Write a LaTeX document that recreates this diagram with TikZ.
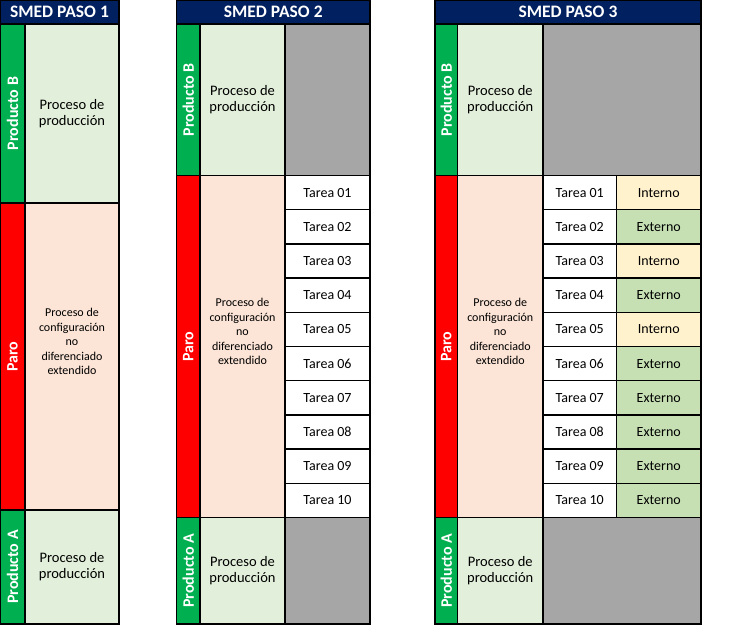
\documentclass[tikz,border=0pt]{standalone}
\usepackage{fontspec}
\setmainfont{Carlito}
\usepackage{tikz}
\definecolor{smednavy}{RGB}{0,32,96}
\definecolor{smedgreen}{RGB}{0,176,80}
\definecolor{smedred}{RGB}{255,0,0}
\definecolor{prodfill}{RGB}{226,239,218}
\definecolor{parofill}{RGB}{252,228,214}
\definecolor{idlefill}{RGB}{166,166,166}
\definecolor{intfill}{RGB}{255,242,204}
\definecolor{extfill}{RGB}{198,224,180}

\begin{document}
\begin{tikzpicture}[x=1pt, y=-1pt,
    cell/.style={draw=black, line width=1.3pt, inner sep=0pt, align=center, font=\fontsize{14}{16}\selectfont},
    head/.style={cell, fill=smednavy, text=white, minimum height=24pt, font=\bfseries\fontsize{17.5}{19}\selectfont},
    tag/.style={cell, rotate=90, text=white, font=\bfseries\fontsize{16}{18}\selectfont},
    prod/.style={cell, fill=prodfill, font=\fontsize{14.5}{16}\selectfont},
    paro/.style={cell, fill=parofill, text depth=30pt, font=\fontsize{12}{14.5}\selectfont},
    idle/.style={cell, fill=idlefill},
    task/.style={cell, fill=white, minimum height=34.2pt},
    intern/.style={task, fill=intfill},
    extern/.style={task, fill=extfill}]
            \useasboundingbox (0,0) rectangle (750,625);

            % Paso 1
            \node[head, minimum width=119pt] (h1) at (59.5,12) {SMED PASO 1};
            \node[tag, fill=smedgreen, minimum width=179pt, minimum height=25pt] (b1) at (12.5,113.5) {Producto B};
            \node[prod, minimum width=94pt, minimum height=179pt] (pb1) at (72,113.5) {Proceso de\\producción};
            \node[tag, fill=smedred, minimum width=307pt, minimum height=25pt] (s1) at (12.5,356.5) {Paro};
            \node[paro, minimum width=94pt, minimum height=307pt] (ps1) at (72,356.5) {Proceso de\\configuración\\no\\diferenciado\\extendido};
            \node[tag, fill=smedgreen, minimum width=114pt, minimum height=25pt] (a1) at (12.5,567) {Producto A};
            \node[prod, minimum width=94pt, minimum height=114pt] (pa1) at (72,567) {Proceso de\\producción};

            % Paso 2
            \node[head, minimum width=193.5pt] (h2) at (273.25,12) {SMED PASO 2};
            \node[tag, fill=smedgreen, minimum width=151.5pt, minimum height=23.5pt] (b2) at (188.25,99.75) {Producto B};
            \node[prod, minimum width=85pt, minimum height=151.5pt] (pb2) at (242.5,99.75) {Proceso de\\producción};
            \node[idle, minimum width=85pt, minimum height=151.5pt] (gb2) at (327.5,99.75) {};
            \node[tag, fill=smedred, minimum width=342pt, minimum height=23.5pt] (s2) at (188.25,346.5) {Paro};
            \node[paro, minimum width=85pt, minimum height=342pt] (ps2) at (242.5,346.5) {Proceso de\\configuración\\no\\diferenciado\\extendido};
            \node[task, minimum width=85pt] (t21) at (327.5,192.6) {Tarea 01};
            \node[task, minimum width=85pt] (t22) at (327.5,226.8) {Tarea 02};
            \node[task, minimum width=85pt] (t23) at (327.5,261.0) {Tarea 03};
            \node[task, minimum width=85pt] (t24) at (327.5,295.2) {Tarea 04};
            \node[task, minimum width=85pt] (t25) at (327.5,329.4) {Tarea 05};
            \node[task, minimum width=85pt] (t26) at (327.5,363.6) {Tarea 06};
            \node[task, minimum width=85pt] (t27) at (327.5,397.8) {Tarea 07};
            \node[task, minimum width=85pt] (t28) at (327.5,432.0) {Tarea 08};
            \node[task, minimum width=85pt] (t29) at (327.5,466.2) {Tarea 09};
            \node[task, minimum width=85pt] (t210) at (327.5,500.4) {Tarea 10};
            \node[tag, fill=smedgreen, minimum width=106.5pt, minimum height=23.5pt] (a2) at (188.25,570.75) {Producto A};
            \node[prod, minimum width=85pt, minimum height=106.5pt] (pa2) at (242.5,570.75) {Proceso de\\producción};
            \node[idle, minimum width=85pt, minimum height=106.5pt] (ga2) at (327.5,570.75) {};

            % Paso 3
            \node[head, minimum width=266pt] (h3) at (568,12) {SMED PASO 3};
            \node[tag, fill=smedgreen, minimum width=151.5pt, minimum height=22.5pt] (b3) at (446.25,99.75) {Producto B};
            \node[prod, minimum width=85.5pt, minimum height=151.5pt] (pb3) at (500.25,99.75) {Proceso de\\producción};
            \node[idle, minimum width=158pt, minimum height=151.5pt] (gb3) at (622,99.75) {};
            \node[tag, fill=smedred, minimum width=342pt, minimum height=22.5pt] (s3) at (446.25,346.5) {Paro};
            \node[paro, minimum width=85.5pt, minimum height=342pt] (ps3) at (500.25,346.5) {Proceso de\\configuración\\no\\diferenciado\\extendido};
            \node[task, minimum width=73.5pt] (t31) at (579.75,192.6) {Tarea 01};
            \node[task, minimum width=73.5pt] (t32) at (579.75,226.8) {Tarea 02};
            \node[task, minimum width=73.5pt] (t33) at (579.75,261.0) {Tarea 03};
            \node[task, minimum width=73.5pt] (t34) at (579.75,295.2) {Tarea 04};
            \node[task, minimum width=73.5pt] (t35) at (579.75,329.4) {Tarea 05};
            \node[task, minimum width=73.5pt] (t36) at (579.75,363.6) {Tarea 06};
            \node[task, minimum width=73.5pt] (t37) at (579.75,397.8) {Tarea 07};
            \node[task, minimum width=73.5pt] (t38) at (579.75,432.0) {Tarea 08};
            \node[task, minimum width=73.5pt] (t39) at (579.75,466.2) {Tarea 09};
            \node[task, minimum width=73.5pt] (t310) at (579.75,500.4) {Tarea 10};
            \node[intern, minimum width=84.5pt] (e31) at (658.75,192.6) {Interno};
            \node[extern, minimum width=84.5pt] (e32) at (658.75,226.8) {Externo};
            \node[intern, minimum width=84.5pt] (e33) at (658.75,261.0) {Interno};
            \node[extern, minimum width=84.5pt] (e34) at (658.75,295.2) {Externo};
            \node[intern, minimum width=84.5pt] (e35) at (658.75,329.4) {Interno};
            \node[extern, minimum width=84.5pt] (e36) at (658.75,363.6) {Externo};
            \node[extern, minimum width=84.5pt] (e37) at (658.75,397.8) {Externo};
            \node[extern, minimum width=84.5pt] (e38) at (658.75,432.0) {Externo};
            \node[extern, minimum width=84.5pt] (e39) at (658.75,466.2) {Externo};
            \node[extern, minimum width=84.5pt] (e310) at (658.75,500.4) {Externo};
            \node[tag, fill=smedgreen, minimum width=106.5pt, minimum height=22.5pt] (a3) at (446.25,570.75) {Producto A};
            \node[prod, minimum width=85.5pt, minimum height=106.5pt] (pa3) at (500.25,570.75) {Proceso de\\producción};
            \node[idle, minimum width=158pt, minimum height=106.5pt] (ga3) at (622,570.75) {};
        \end{tikzpicture}
\end{document}
